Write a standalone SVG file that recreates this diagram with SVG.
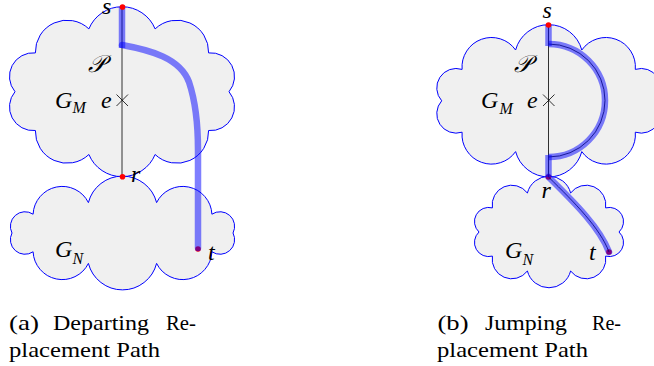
<svg xmlns="http://www.w3.org/2000/svg" width="654" height="366" viewBox="0 0 654 366">
<style>
.cloud{fill:#f0f0f0;stroke:#0000ff;stroke-width:1}
.thin{fill:none;stroke:#000;stroke-width:0.8}
.hl{fill:none;stroke:#0000ff;stroke-opacity:0.5;stroke-width:6.5}
.dot{fill:#ff0000}
.m{font-family:"Liberation Serif","DejaVu Serif",serif;font-style:italic;font-size:24px;fill:#000}
.sub{font-family:"Liberation Serif","DejaVu Serif",serif;font-style:italic;font-size:16px;fill:#000}
.cap{font-family:"Liberation Serif","DejaVu Serif",serif;font-size:21px;fill:#000}
</style>
<rect width="654" height="366" fill="#fff"/>
<g id="left-GM">
<path class="cloud" d="M88.9,28.9 A35.8,35.8 0 0 1 155.1,28.9 A31.7,31.7 0 0 1 208.6,52.9 A23.7,23.7 0 0 1 229,91.7 A23.7,23.7 0 0 1 208.6,130.5 A31.7,31.7 0 0 1 155.1,154.5 A35.8,35.8 0 0 1 88.9,154.5 A31.7,31.7 0 0 1 35.4,130.5 A23.7,23.7 0 0 1 15,91.7 A23.7,23.7 0 0 1 35.4,52.9 A31.7,31.7 0 0 1 88.9,28.9 Z"/>
<text class="m" x="55" y="107.5">G</text><text class="sub" x="72.5" y="113">M</text>
<text class="m" x="88" y="72" font-size="21">𝒫</text>
</g>
<g id="left-GN">
<path class="cloud" d="M88.4,202.6 A35.2,35.2 0 0 1 156.6,202.6 A29.2,29.2 0 0 1 211.9,214.2 A14.6,14.6 0 0 1 233,233 A14.6,14.6 0 0 1 211.9,251.8 A29.2,29.2 0 0 1 156.6,263.4 A35.2,35.2 0 0 1 88.4,263.4 A29.2,29.2 0 0 1 33.1,251.8 A14.6,14.6 0 0 1 12,233 A14.6,14.6 0 0 1 33.1,214.2 A29.2,29.2 0 0 1 88.4,202.6 Z"/>
<text class="m" x="55" y="256.5">G</text><text class="sub" x="72.5" y="263.5">N</text>
</g>
<g id="right-GM">
<path class="cloud" d="M515.6,50 A34.3,34.3 0 0 1 581.8,50 A29.5,29.5 0 0 1 635.3,69.4 A19.4,19.4 0 0 1 655.7,100.8 A19.4,19.4 0 0 1 635.3,132.2 A29.5,29.5 0 0 1 581.8,151.6 A34.3,34.3 0 0 1 515.6,151.6 A29.5,29.5 0 0 1 462.1,132.2 A19.4,19.4 0 0 1 441.7,100.8 A19.4,19.4 0 0 1 462.1,69.4 A29.5,29.5 0 0 1 515.6,50 Z"/>
<text class="m" x="481" y="108">G</text><text class="sub" x="499.5" y="113.5">M</text>
<text class="m" x="514" y="72" font-size="21">𝒫</text>
</g>
<g id="right-GN">
<path class="cloud" d="M527.4,193 A22.3,22.3 0 0 1 570.6,193 A19.6,19.6 0 0 1 605.6,207.9 A14.2,14.2 0 0 1 619,232 A14.2,14.2 0 0 1 605.6,256.1 A19.6,19.6 0 0 1 570.6,271 A22.3,22.3 0 0 1 527.4,271 A19.6,19.6 0 0 1 492.4,256.1 A14.2,14.2 0 0 1 479,232 A14.2,14.2 0 0 1 492.4,207.9 A19.6,19.6 0 0 1 527.4,193 Z"/>
<text class="m" x="505" y="258">G</text><text class="sub" x="522.5" y="265">N</text>
</g>
<g id="connectors">
<circle class="dot" cx="198" cy="249" r="2.8"/>
<circle class="dot" cx="548.5" cy="177" r="2.8"/>
<circle class="dot" cx="609" cy="252" r="2.8"/>
<line class="thin" x1="122" y1="7" x2="122" y2="177"/>
<path class="hl" d="M122,7 V48"/>
<path class="hl" stroke-linecap="round" d="M122,45 C150,50 180,58 189,82 C195,100 198,120 198,150 V248"/>
<line class="thin" x1="548.5" y1="25" x2="548.5" y2="177"/>
<path class="thin" d="M548.5,44 A56.5,56.5 0 0 1 548.5,157"/>
<path class="thin" d="M548.5,177 C575,203 600,228 609,252"/>
<path class="hl" stroke-width="6" d="M548.5,25 V46"/>
<path class="hl" stroke-width="6" d="M548.5,155 V177"/>
<path class="hl" stroke-width="6" d="M548.5,44 A56.5,56.5 0 0 1 548.5,157"/>
<path class="hl" stroke-width="6" stroke-linecap="round" d="M548.5,177 C575,203 600,228 609,252"/>
<path class="thin" d="M116.5,94.5 L128,106 M116.5,106 L128,94.5"/>
<path class="thin" d="M543,94.5 L554.5,106 M543,106 L554.5,94.5"/>
<circle class="dot" cx="122.5" cy="7" r="2.8"/>
<circle class="dot" cx="122.5" cy="176.7" r="2.8"/>
<circle class="dot" cx="548.5" cy="25" r="2.8"/>
</g>
<g id="labels">
<text class="m" x="102" y="14">s</text>
<text class="m" x="101" y="107.5">e</text>
<text class="m" x="131" y="182">r</text>
<text class="m" x="208" y="260" fill="#777">t</text>
<text class="m" x="542.5" y="17.5">s</text>
<text class="m" x="527" y="107.5">e</text>
<text class="m" x="541.5" y="198">r</text>
<text class="m" x="589" y="260">t</text>
</g>
<g id="captions">
<text class="cap" y="330"><tspan x="9" textLength="30" lengthAdjust="spacingAndGlyphs">(a)</tspan><tspan x="53" textLength="96" lengthAdjust="spacingAndGlyphs">Departing</tspan><tspan x="166" textLength="30" lengthAdjust="spacingAndGlyphs">Re-</tspan></text>
<text class="cap" x="9" y="357" textLength="151" lengthAdjust="spacingAndGlyphs">placement Path</text>
<text class="cap" y="330"><tspan x="437.5" textLength="31" lengthAdjust="spacingAndGlyphs">(b)</tspan><tspan x="485" textLength="82" lengthAdjust="spacingAndGlyphs">Jumping</tspan><tspan x="592" textLength="29" lengthAdjust="spacingAndGlyphs">Re-</tspan></text>
<text class="cap" x="437" y="357" textLength="151" lengthAdjust="spacingAndGlyphs">placement Path</text>
</g>
</svg>
